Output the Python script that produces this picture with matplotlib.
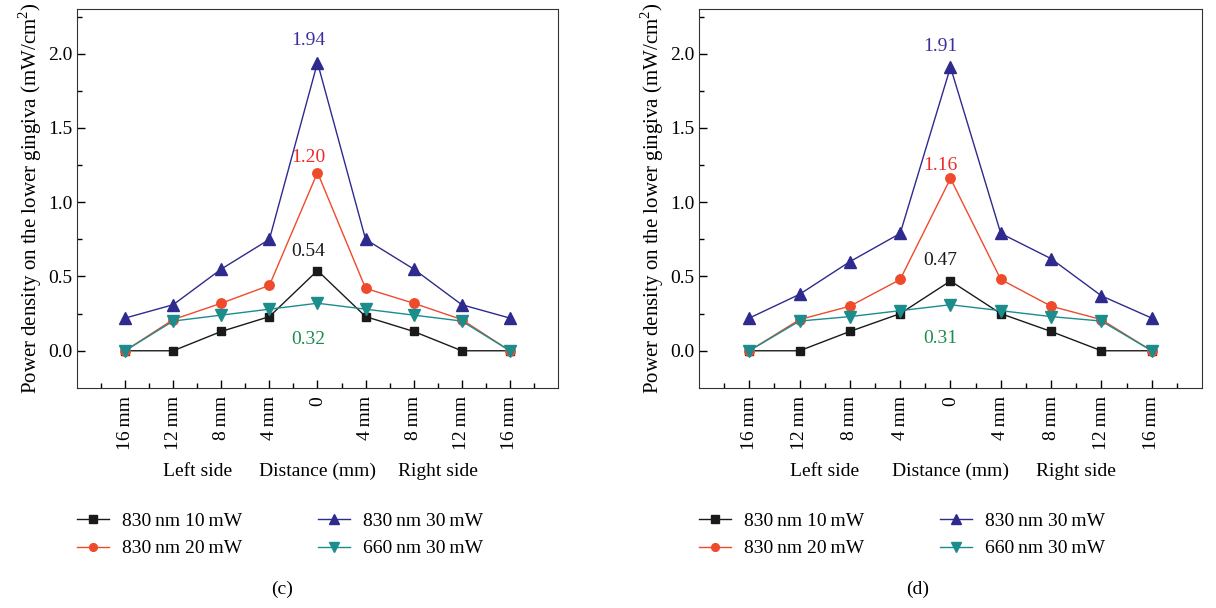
import matplotlib
matplotlib.use('Agg')
import matplotlib.pyplot as plt
import matplotlib.transforms as mtransforms
import numpy as np

plt.rcParams['font.family'] = 'Liberation Serif'
plt.rcParams['font.size'] = 14
plt.rcParams['mathtext.fontset'] = 'custom'
plt.rcParams['mathtext.rm'] = 'Liberation Serif'

# data
positions = [-4, -3, -2, -1, 0, 1, 2, 3, 4]
tick_labels = ['16\u2009mm', '12\u2009mm', '8\u2009mm', '4\u2009mm', '0',
               '4\u2009mm', '8\u2009mm', '12\u2009mm', '16\u2009mm']
series_names = ['830\u2009nm 10\u2009mW', '830\u2009nm 20\u2009mW',
                '830\u2009nm 30\u2009mW', '660\u2009nm 30\u2009mW']

c_10mw = [0, 0, 0.13, 0.23, 0.54, 0.23, 0.13, 0, 0]
c_20mw = [0, 0.21, 0.32, 0.44, 1.20, 0.42, 0.32, 0.21, 0]
c_30mw = [0.22, 0.31, 0.55, 0.75, 1.94, 0.75, 0.55, 0.31, 0.22]
c_660 = [0, 0.20, 0.24, 0.28, 0.32, 0.28, 0.24, 0.20, 0]

d_10mw = [0, 0, 0.13, 0.25, 0.47, 0.25, 0.13, 0, 0]
d_20mw = [0, 0.21, 0.30, 0.48, 1.16, 0.48, 0.30, 0.21, 0]
d_30mw = [0.22, 0.38, 0.60, 0.79, 1.91, 0.79, 0.62, 0.37, 0.22]
d_660 = [0, 0.20, 0.23, 0.27, 0.31, 0.27, 0.23, 0.20, 0]

colors = ['#1a1a1a', '#f04a2c', '#2f2a8e', '#1b8d8c']
markers = ['s', 'o', '^', 'v']
msizes = [6.3, 6.8, 8.5, 8.5]
label_colors = ['#1a1a1a', '#ee2a2a', '#3a2fa0', '#1e8c4c']

fig = plt.figure(figsize=(12.16, 6.08), dpi=100)
ax_c = fig.add_axes([0.0633, 0.362, 0.3956, 0.623])
ax_d = fig.add_axes([0.5748, 0.362, 0.4137, 0.623])


def draw(ax, data, peak_y, legend_x, caption, caption_x):
    for i, ys in enumerate(data):
        ax.plot(positions, ys, color=colors[i], marker=markers[i], markersize=msizes[i],
                linewidth=1, label=series_names[i])
    ax.set_xlim(-5, 5)
    ax.set_ylim(-0.25, 2.3)
    ax.set_xticks(positions)
    ax.set_xticklabels(tick_labels, rotation=90)
    ax.set_xticks(np.arange(-4.5, 5, 1), minor=True)
    ax.set_yticks([0, 0.5, 1.0, 1.5, 2.0])
    ax.set_yticklabels(['0.0', '0.5', '1.0', '1.5', '2.0'])
    ax.set_yticks([0.25, 0.75, 1.25, 1.75, 2.25], minor=True)
    ax.tick_params(which='major', direction='in', length=6, width=1)
    ax.tick_params(which='minor', direction='in', length=3.5, width=1)
    ax.tick_params(axis='x', pad=6)
    for s in ax.spines.values():
        s.set_color('#333333')
    ax.set_ylabel('Power density on the lower gingiva (mW/cm$^{2}$)', fontsize=15, labelpad=3)

    # peak labels
    for i in range(4):
        ax.text(-0.2, peak_y[i], '%.2f' % data[i][4], color=label_colors[i],
                ha='center', va='center')

    trans = mtransforms.blended_transform_factory(ax.transData, ax.transAxes)
    ax.text(-2.5, -0.22, 'Left side', transform=trans, ha='center', va='center')
    ax.text(0, -0.22, 'Distance (mm)', transform=trans, ha='center', va='center')
    ax.text(2.5, -0.22, 'Right side', transform=trans, ha='center', va='center')

    fig.legend(*ax.get_legend_handles_labels(), loc='upper left',
               bbox_to_anchor=(legend_x, 0.157), ncol=2, frameon=False,
               handlelength=1.65, handletextpad=0.67, columnspacing=3.9,
               labelspacing=0.5, borderaxespad=0, borderpad=0, markerscale=0.82)
    fig.text(caption_x, 0.03, caption, ha='center', va='center')


draw(ax_c, [c_10mw, c_20mw, c_30mw, c_660], [0.67, 1.30, 2.09, 0.075], 0.063, '(c)', 0.232)
draw(ax_d, [d_10mw, d_20mw, d_30mw, d_660], [0.61, 1.25, 2.05, 0.08], 0.5748, '(d)', 0.755)

fig.savefig('out.png', dpi=100)
